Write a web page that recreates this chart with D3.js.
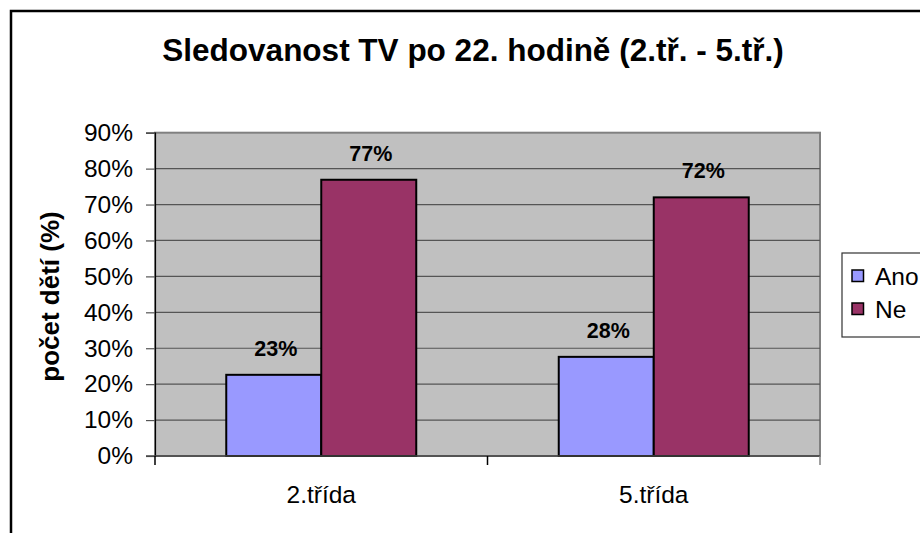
<!DOCTYPE html>
<html>
<head>
<meta charset="utf-8">
<script src="https://cdn.jsdelivr.net/npm/d3@7"></script>
<style>
  html, body { margin: 0; padding: 0; background: #fff; }
  svg { display: block; font-family: "Liberation Sans", Arial, sans-serif; }
</style>
</head>
<body>
<svg id="chart" width="920" height="533"></svg>
<script>
// ---- data ----
const title = "Sledovanost TV po 22. hodině (2.tř. - 5.tř.)";
const yTitle = "počet dětí (%)";
const categories = ["2.třída", "5.třída"];
const series = ["Ano", "Ne"];
const anoValues = [22.6, 27.6];
const neValues = [76.9, 72.0];
const yTicks = [0, 10, 20, 30, 40, 50, 60, 70, 80, 90];
const colors = ["#9999FF", "#993366"];

const svg = d3.select("#chart");
const plot = { left: 155, right: 820, top: 132.7, bottom: 456 };

// chart area border (extends past the window on right/bottom)
svg.append("rect")
  .attr("x", 11).attr("y", 11).attr("width", 1000).attr("height", 1000)
  .attr("fill", "#fff").attr("stroke", "#000").attr("stroke-width", 2.5);

const x0 = d3.scaleBand().domain(categories).range([plot.left, plot.right]).paddingInner(0).paddingOuter(0);
const x1 = d3.scaleBand().domain(series).range([0, x0.bandwidth()]).paddingInner(0).paddingOuter(0.75);
const y = d3.scaleLinear().domain([0, 90]).range([plot.bottom, plot.top]);

// plot background
svg.append("rect")
  .attr("x", plot.left).attr("y", plot.top)
  .attr("width", plot.right - plot.left).attr("height", plot.bottom - plot.top)
  .attr("fill", "#C0C0C0").attr("stroke", "#808080").attr("stroke-width", 2);

// gridlines
svg.append("g").selectAll("line").data(yTicks.filter(d => d > 0 && d < 90)).join("line")
  .attr("x1", plot.left).attr("x2", plot.right)
  .attr("y1", d => y(d)).attr("y2", d => y(d))
  .attr("stroke", "#555").attr("stroke-width", 1.2);

// bars
const rows = categories.map((c, i) => ({ cat: c, vals: [anoValues[i], neValues[i]] }));
const groups = svg.append("g").selectAll("g").data(rows).join("g")
  .attr("transform", d => `translate(${x0(d.cat)},0)`);
groups.selectAll("rect").data(d => d.vals.map((v, j) => ({ s: series[j], v, j }))).join("rect")
  .attr("x", d => x1(d.s)).attr("width", x1.bandwidth())
  .attr("y", d => y(d.v)).attr("height", d => y(0) - y(d.v))
  .attr("fill", d => colors[d.j]).attr("stroke", "#000").attr("stroke-width", 2);
groups.selectAll("text").data(d => d.vals.map((v, j) => ({ s: series[j], v, j }))).join("text")
  .attr("x", d => x1(d.s) + x1.bandwidth() / 2 + 2)
  .attr("y", d => y(d.v) - 19)
  .attr("text-anchor", "middle")
  .attr("font-size", "21.5px").attr("font-weight", "bold").attr("fill", "#000")
  .text(d => Math.round(d.v) + "%");

// y axis
const yAxis = d3.axisLeft(y).tickValues(yTicks).tickFormat(d => d + "%").tickSize(9).tickPadding(13);
const ya = svg.append("g").attr("transform", `translate(${plot.left},0)`).call(yAxis);
ya.select(".domain").attr("stroke", "#000").attr("stroke-width", 1.2);
ya.selectAll(".tick line").attr("stroke", "#555").attr("stroke-width", 1.2);
ya.selectAll(".tick text").attr("font-size", "24.5px").attr("fill", "#000")
  .attr("font-family", "'Liberation Sans', Arial, sans-serif");

// x axis
const xAxis = d3.axisBottom(x0).tickSize(0).tickPadding(30);
const xa = svg.append("g").attr("transform", `translate(0,${plot.bottom})`).call(xAxis);
xa.select(".domain").remove();
xa.selectAll(".tick text").attr("font-size", "24.5px").attr("fill", "#000")
  .attr("font-family", "'Liberation Sans', Arial, sans-serif");
svg.append("line").attr("x1", plot.left - 9).attr("x2", plot.right)
  .attr("y1", plot.bottom).attr("y2", plot.bottom)
  .attr("stroke", "#444").attr("stroke-width", 1.5);
const edges = categories.map(c => x0(c)).concat([plot.right]);
svg.append("g").selectAll("line").data(edges).join("line")
  .attr("x1", d => d).attr("x2", d => d)
  .attr("y1", plot.bottom).attr("y2", plot.bottom + 9)
  .attr("stroke", (d, i) => i === edges.length - 1 ? "#808080" : "#000").attr("stroke-width", 1.5);

// title
svg.append("text").attr("x", 473).attr("y", 61).attr("text-anchor", "middle")
  .attr("font-size", "31.5px").attr("font-weight", "bold").text(title);

// y axis title
svg.append("text").attr("transform", "translate(59,296.5) rotate(-90)")
  .attr("text-anchor", "middle").attr("font-size", "26px").attr("font-weight", "bold").text(yTitle);

// legend
const lg = svg.append("g");
lg.append("rect").attr("x", 842).attr("y", 253).attr("width", 200).attr("height", 84)
  .attr("fill", "#fff").attr("stroke", "#333").attr("stroke-width", 1.2);
const items = lg.selectAll("g").data(series).join("g")
  .attr("transform", (d, i) => `translate(852,${276 + i * 33})`);
items.append("rect").attr("x", 0).attr("y", -6).attr("width", 11.5).attr("height", 11.5)
  .attr("fill", (d, i) => colors[i]).attr("stroke", "#000").attr("stroke-width", 1.5);
items.append("text").attr("x", 23).attr("y", 0).attr("dy", "0.35em")
  .attr("font-size", "24.5px").text(d => d);
</script>
</body>
</html>
